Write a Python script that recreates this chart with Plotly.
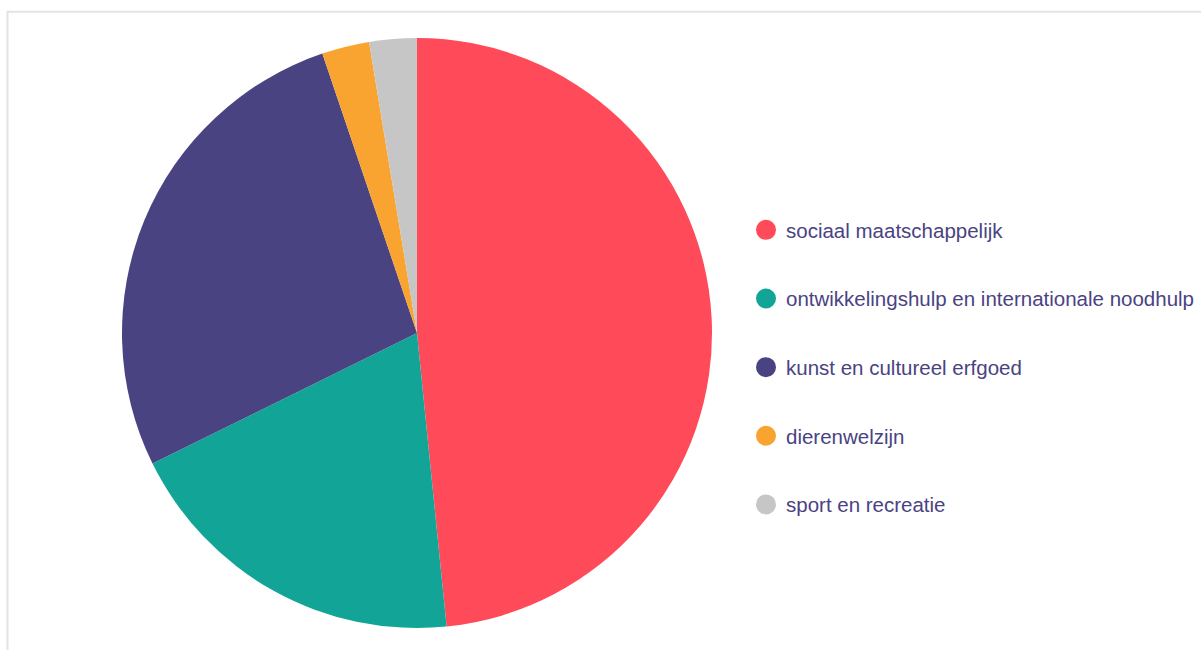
import plotly.graph_objects as go

labels = ["sociaal maatschappelijk",
          "ontwikkelingshulp en internationale noodhulp",
          "kunst en cultureel erfgoed",
          "dierenwelzijn",
          "sport en recreatie"]
values = [48.4, 19.3, 27.1, 2.6, 2.6]
colors = ["#FF4A59", "#12A597", "#4A4382", "#F9A431", "#C6C6C6"]
text_color = "#4A4382"

W, H = 1201, 650

fig = go.Figure()
fig.add_trace(go.Pie(
    labels=labels, values=values, sort=False, direction="clockwise",
    rotation=0, textinfo="none", hoverinfo="label+percent",
    marker=dict(colors=colors, line=dict(width=0)),
    showlegend=False,
    domain=dict(x=[122 / W, 712 / W], y=[1 - 628 / H, 1 - 38 / H]),
))

for lab, col in zip(labels, colors):
    fig.add_trace(go.Scatter(
        x=[None], y=[None], mode="markers", name=lab, legendgroup=lab,
        marker=dict(symbol="circle", size=16, color=col,
                    line=dict(color=col, width=4)),
        hoverinfo="skip",
    ))

fig.update_layout(
    width=W, height=H,
    margin=dict(l=0, r=0, t=0, b=0),
    paper_bgcolor="white", plot_bgcolor="white",
    xaxis=dict(visible=False), yaxis=dict(visible=False),
    font=dict(family="Liberation Sans, Arial, sans-serif", color=text_color, size=20.5),
    legend=dict(
        x=746 / W, y=1 - 210 / H, xanchor="left", yanchor="top",
        traceorder="grouped", tracegroupgap=39,
        font=dict(size=20.5, color=text_color),
        itemsizing="trace", bgcolor="rgba(0,0,0,0)",
    ),
    shapes=[dict(type="rect", xref="paper", yref="paper",
                 x0=7.5 / W, x1=1.05, y0=-0.05, y1=1 - 11.7 / H,
                 line=dict(color="#E4E4E4", width=2), layer="below")],
)

fig.write_html("out.html", config={"displayModeBar": False},
               post_script="document.body.style.margin='0';")
